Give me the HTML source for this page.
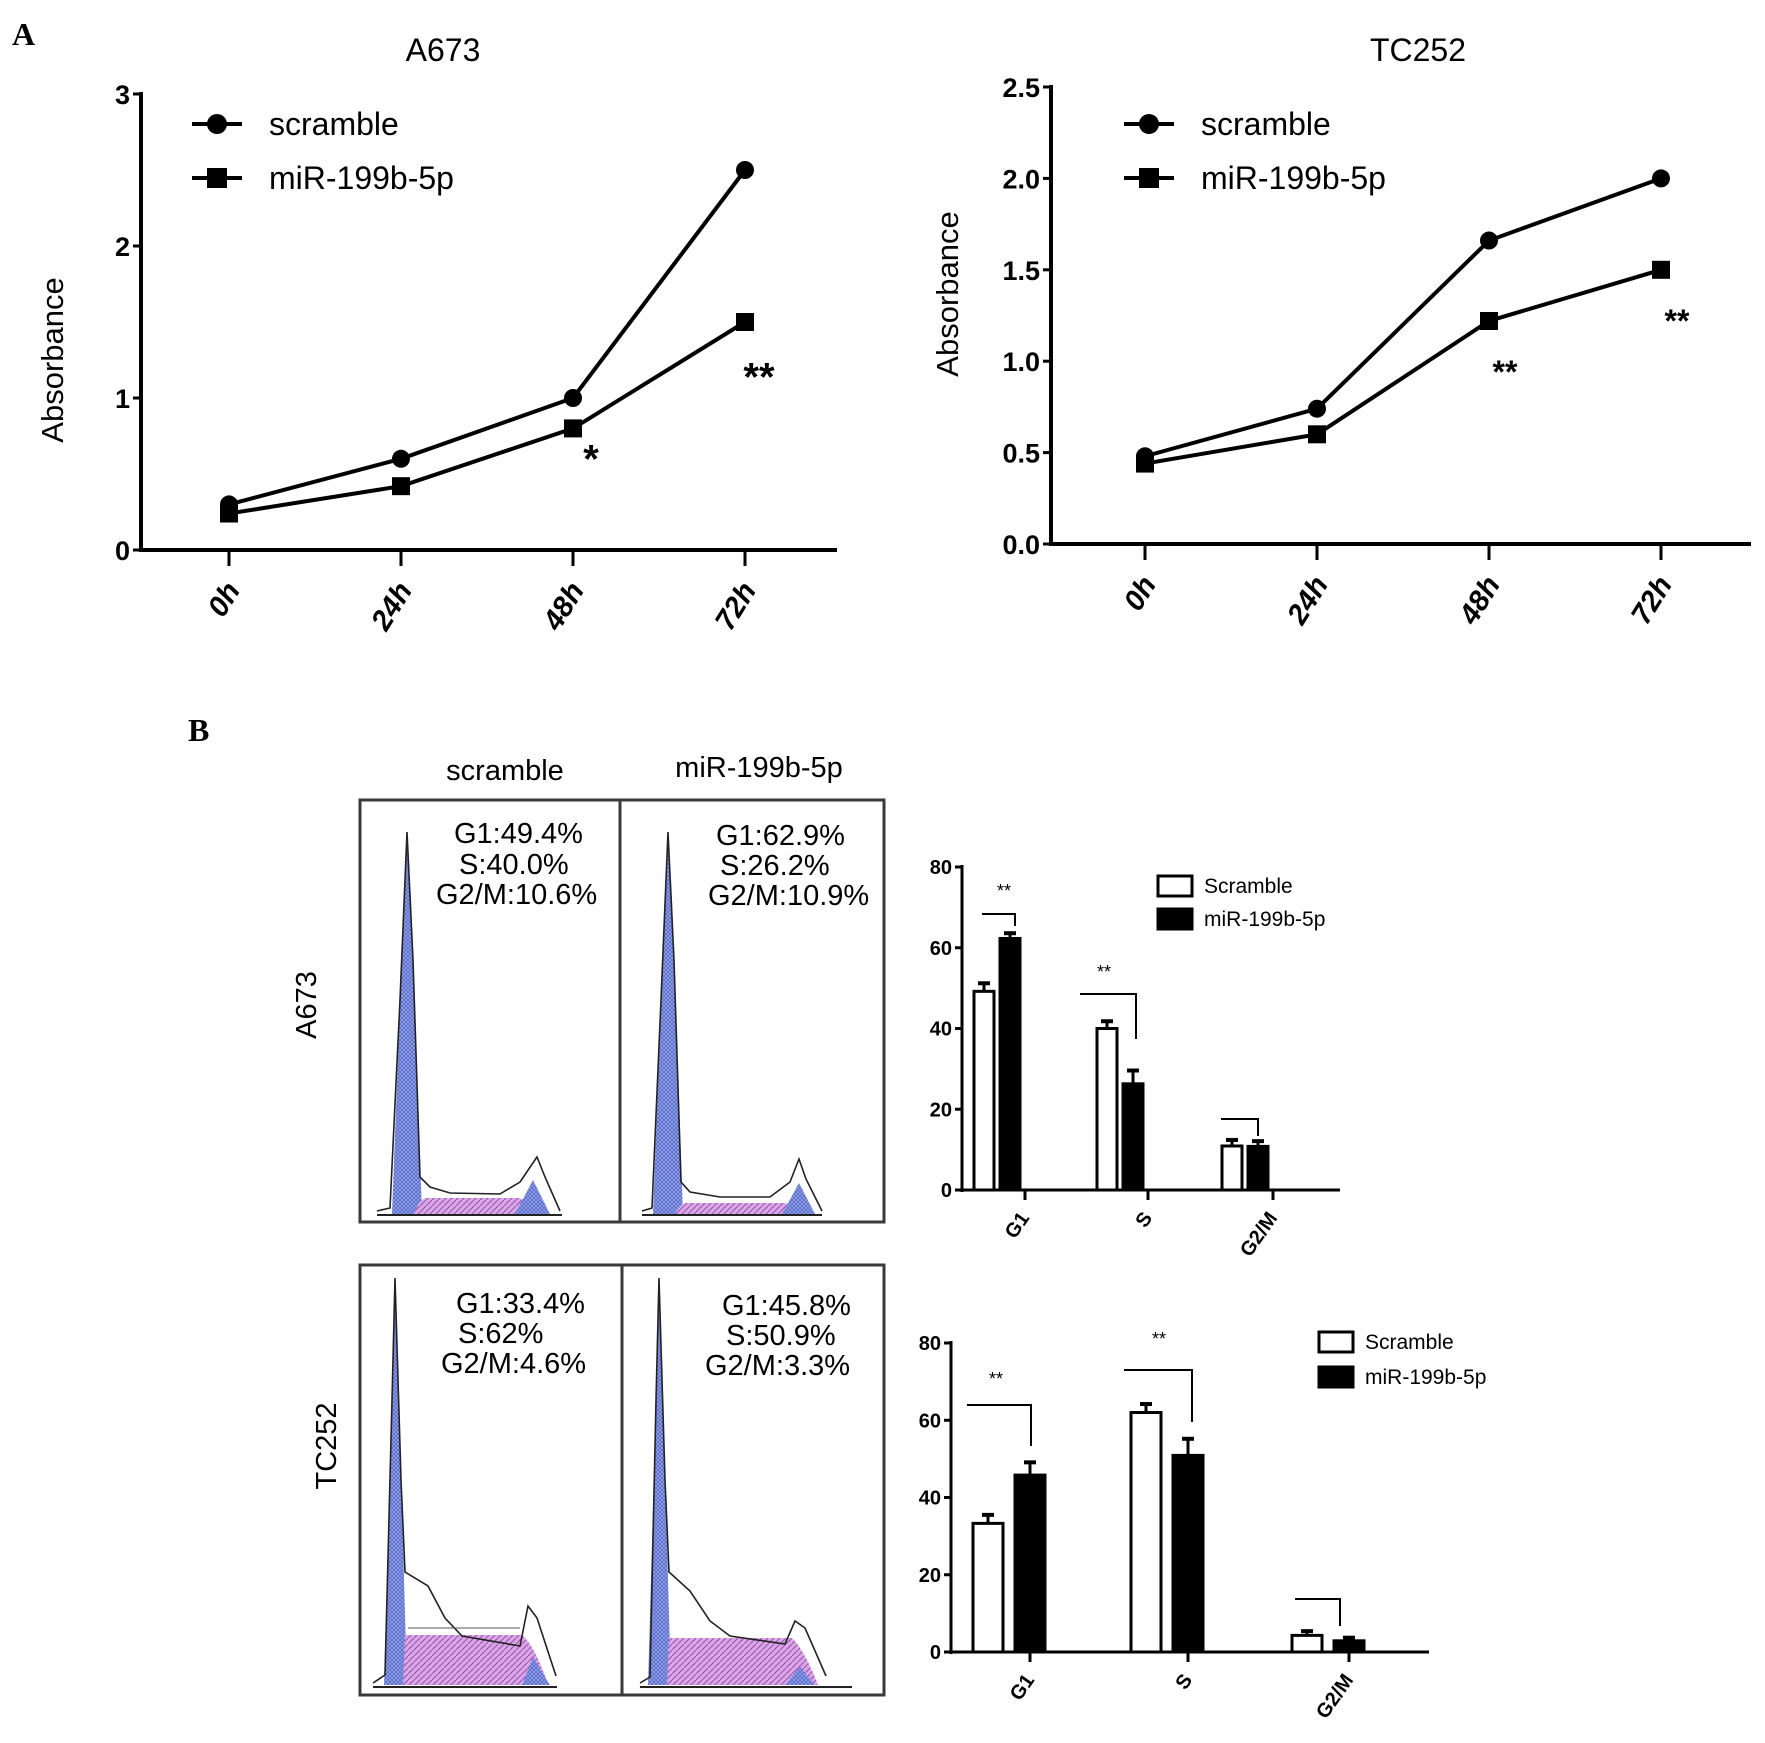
<!DOCTYPE html>
<html><head><meta charset="utf-8"><style>
html,body{margin:0;padding:0;background:#fff}
svg{display:block}
text{font-family:"Liberation Sans",sans-serif}
</style></head><body>
<svg id="fig" xmlns="http://www.w3.org/2000/svg" width="1765" height="1743" viewBox="0 0 1765 1743">
<defs>
<pattern id="hatchB" width="4" height="4" patternUnits="userSpaceOnUse"><rect width="4" height="4" fill="#8e9de6"/><path d="M0 0L4 4M4 0L0 4" stroke="#4a5cc0" stroke-width="0.6"/></pattern>
<pattern id="hatchP" width="6" height="6" patternUnits="userSpaceOnUse"><rect width="6" height="6" fill="#d9a6e6"/><path d="M0 6L6 0" stroke="#9a4fb0" stroke-width="1"/></pattern>
</defs>
<text x="12" y="45" font-weight="bold" font-size="32" style="font-family:'Liberation Serif',serif">A</text>
<text x="188" y="741" font-weight="bold" font-size="32" style="font-family:'Liberation Serif',serif">B</text>
<g id="lineA"></g><g id="lineB"></g>

<g>
<text x="505" y="780" font-size="29" text-anchor="middle">scramble</text>
<text x="759" y="777" font-size="29" text-anchor="middle">miR-199b-5p</text>
<text transform="translate(316,1005) rotate(-90)" font-size="29" text-anchor="middle">A673</text>
<text transform="translate(336,1446) rotate(-90)" font-size="29" text-anchor="middle">TC252</text>
<rect x="360" y="800" width="524" height="422" fill="none" stroke="#3a3a3a" stroke-width="3"/>
<line x1="620" y1="800" x2="620" y2="1222" stroke="#3a3a3a" stroke-width="3"/>
<rect x="360" y="1265" width="524" height="430" fill="none" stroke="#3a3a3a" stroke-width="3"/>
<line x1="622" y1="1265" x2="622" y2="1695" stroke="#3a3a3a" stroke-width="3"/>

<g id="histA1">
<path d="M392 1214 L404 900 L407 832 L411 900 L422 1214 Z" fill="url(#hatchB)"/>
<path d="M414 1214 Q420 1197 428 1198 L520 1198 Q530 1203 540 1214 Z" fill="url(#hatchP)"/>
<path d="M515 1214 L533 1180 L550 1214 Z" fill="url(#hatchB)"/>
<path d="M377 1211 L390 1208 L400 1000 L407 832 L413 960 L420 1177 L430 1187 L450 1193 L500 1194 L520 1182 L537 1157 L545 1177 L560 1211" fill="none" stroke="#222" stroke-width="1.6"/>
<line x1="377" y1="1215" x2="562" y2="1215" stroke="#222" stroke-width="2"/>
<text x="454" y="843" font-size="29">G1:49.4%</text>
<text x="459" y="874" font-size="29">S:40.0%</text>
<text x="436" y="904" font-size="29">G2/M:10.6%</text>
</g>
<g id="histA2">
<path d="M653 1214 L665 900 L668 832 L672 900 L683 1214 Z" fill="url(#hatchB)"/>
<path d="M675 1214 Q681 1202 689 1203 L785 1203 Q792 1207 800 1214 Z" fill="url(#hatchP)"/>
<path d="M782 1214 L799 1183 L815 1214 Z" fill="url(#hatchB)"/>
<path d="M642 1211 L652 1208 L661 1000 L668 832 L674 960 L681 1182 L690 1192 L720 1197 L770 1197 L790 1182 L799 1159 L806 1179 L822 1211" fill="none" stroke="#222" stroke-width="1.6"/>
<line x1="642" y1="1215" x2="822" y2="1215" stroke="#222" stroke-width="2"/>
<text x="716" y="845" font-size="29">G1:62.9%</text>
<text x="720" y="875" font-size="29">S:26.2%</text>
<text x="708" y="905" font-size="29">G2/M:10.9%</text>
</g>
<g id="histB1">
<path d="M384 1685 L392 1400 L395 1278 L399 1400 L407 1685 Z" fill="url(#hatchB)"/>
<path d="M403 1685 L405 1635 L522 1635 Q535 1646 548 1685 Z" fill="url(#hatchP)"/>
<path d="M522 1685 L533 1657 L550 1685 Z" fill="url(#hatchB)"/>
<path d="M373 1683 L385 1675 L392 1400 L395 1278 L401 1480 L405 1572 L428 1586 L445 1618 L462 1636 L520 1646 L528 1606 L537 1618 L556 1676" fill="none" stroke="#222" stroke-width="1.6"/>
<path d="M408 1628 L520 1628" fill="none" stroke="#555" stroke-width="1"/>
<line x1="373" y1="1687" x2="557" y2="1687" stroke="#222" stroke-width="2"/>
<text x="456" y="1313" font-size="29">G1:33.4%</text>
<text x="458" y="1343" font-size="29">S:62%</text>
<text x="441" y="1373" font-size="29">G2/M:4.6%</text>
</g>
<g id="histB2">
<path d="M648 1685 L656 1400 L659 1278 L663 1400 L671 1685 Z" fill="url(#hatchB)"/>
<path d="M667 1685 L669 1638 L792 1638 Q805 1651 818 1685 Z" fill="url(#hatchP)"/>
<path d="M785 1685 L800 1667 L815 1685 Z" fill="url(#hatchB)"/>
<path d="M640 1683 L650 1677 L656 1400 L659 1278 L665 1480 L669 1572 L690 1591 L710 1621 L730 1636 L785 1644 L795 1621 L805 1628 L826 1676" fill="none" stroke="#222" stroke-width="1.6"/>
<line x1="640" y1="1687" x2="852" y2="1687" stroke="#222" stroke-width="2"/>
<text x="722" y="1315" font-size="29">G1:45.8%</text>
<text x="726" y="1345" font-size="29">S:50.9%</text>
<text x="705" y="1375" font-size="29">G2/M:3.3%</text>
</g>
</g>
<g id="barA"></g><g id="barB"></g>
</svg>
<script>
// ---- Line chart data ----
const timeLabels = ["0h","24h","48h","72h"];
const a673Scramble = [0.3,0.6,1.0,2.5];
const a673Mir = [0.24,0.42,0.8,1.5];
const tc252Scramble = [0.48,0.74,1.66,2.0];
const tc252Mir = [0.44,0.6,1.22,1.5];
const a673Ticks = ["0","1","2","3"];
const tc252Ticks = ["0.0","0.5","1.0","1.5","2.0","2.5"];
// ---- Bar chart data ----
const phaseLabels = ["G1","S","G2/M"];
const barA673Scramble = [49.2,40.0,10.9];
const barA673ScrambleErr = [2.0,1.8,1.5];
const barA673Mir = [62.3,26.3,10.8];
const barA673MirErr = [1.3,3.3,1.3];
const barTc252Scramble = [33.3,62.0,4.3];
const barTc252ScrambleErr = [2.2,2.2,1.1];
const barTc252Mir = [45.8,50.9,2.9];
const barTc252MirErr = [3.3,4.3,0.8];
const barTicks = ["0","20","40","60","80"];

const NS="http://www.w3.org/2000/svg";
function mk(parent,tag,attrs,txt){const e=document.createElementNS(NS,tag);for(const k in attrs)e.setAttribute(k,attrs[k]);if(txt!==undefined)e.textContent=txt;parent.appendChild(e);return e;}

function lineChart(g,cfg){
  const ys=v=>cfg.y0+(cfg.yTop-cfg.y0)*(v/cfg.yMax);
  const xs=i=>cfg.xTicks[0]+i*(cfg.xTicks[1]-cfg.xTicks[0]);
  let e;
  e=mk(g,"text",{x:cfg.titleX,y:61,"font-size":32,"text-anchor":"middle"},cfg.title);
  
  
  e=mk(g,"line",{x1:cfg.ax,y1:cfg.yTop-2,x2:cfg.ax,y2:cfg.y0+2,stroke:"#000","stroke-width":4});
  
  
  e=mk(g,"line",{x1:cfg.ax-2,y1:cfg.y0,x2:cfg.xEnd,y2:cfg.y0,stroke:"#000","stroke-width":4});
  
  
  cfg.ticks.forEach((t,i)=>{
    const v=i*cfg.yMax/(cfg.ticks.length-1);const y=ys(v);
    mk(g,"line",{x1:cfg.ax-8,y1:y,x2:cfg.ax,y2:y,stroke:"#000","stroke-width":3});
    e=mk(g,"text",{x:cfg.ax-11,y:y+10,"font-size":27,"font-weight":"bold","text-anchor":"end"},t);
    
    
  });
  timeLabels.forEach((t,i)=>{
    const x=xs(i);
    mk(g,"line",{x1:x,y1:cfg.y0,x2:x,y2:cfg.y0+16,stroke:"#000","stroke-width":3});
    e=mk(g,"text",{transform:`translate(${x+12},${cfg.y0+40}) rotate(-58)`,"font-size":29,"font-weight":"bold","font-style":"italic","text-anchor":"end"},t);
    
    
  });
  e=mk(g,"text",{transform:`translate(${cfg.ylabX},${cfg.ylabY}) rotate(-90)`,"font-size":31,"text-anchor":"middle"},"Absorbance");
  
  
  [[cfg.s1,"circle"],[cfg.s2,"square"]].forEach(([arr,m],si)=>{
    const pts=arr.map((v,i)=>xs(i)+","+ys(v)).join(" ");
    e=mk(g,"polyline",{points:pts,fill:"none",stroke:"#000","stroke-width":4});
    
    
    arr.forEach((v,i)=>{
      if(m==="circle"){e=mk(g,"circle",{cx:xs(i),cy:ys(v),r:9,fill:"#000"});}
      else{e=mk(g,"rect",{x:xs(i)-9,y:ys(v)-9,width:18,height:18,fill:"#000"});}
      
      
    });
  });
  [["scramble","circle",cfg.legY[0]],["miR-199b-5p","square",cfg.legY[1]]].forEach(([lab,m,y])=>{
    mk(g,"line",{x1:cfg.legX-25,y1:y,x2:cfg.legX+25,y2:y,stroke:"#000","stroke-width":4});
    if(m==="circle")mk(g,"circle",{cx:cfg.legX,cy:y,r:10,fill:"#000"});else mk(g,"rect",{x:cfg.legX-10,y:y-10,width:20,height:20,fill:"#000"});
    e=mk(g,"text",{x:cfg.legText,y:y+11,"font-size":32},lab);
    
    
  });
  cfg.stars.forEach(s=>{
    e=mk(g,"text",{x:xs(s[0])+s[1],y:ys(s[2]),"font-size":s[4],"font-weight":"bold","text-anchor":"middle"},s[3]);
    
    
  });
}
const gA=document.getElementById("lineA");


lineChart(gA,{title:"A673",titleX:443,ax:141,y0:550,yTop:94,yMax:3,xTicks:[229,401],xEnd:837,ticks:a673Ticks,
  ylabX:63,ylabY:360,s1:a673Scramble,s2:a673Mir,legX:217,legText:269,legY:[124,178],
  stars:[[2,18,0.51,"*",40],[3,14,1.05,"**",40]]});
const gB=document.getElementById("lineB");


lineChart(gB,{title:"TC252",titleX:1418,ax:1051,y0:544,yTop:87,yMax:2.5,xTicks:[1145,1317],xEnd:1751,ticks:tc252Ticks,
  ylabX:958,ylabY:294,s1:tc252Scramble,s2:tc252Mir,legX:1149,legText:1201,legY:[124,178],
  stars:[[2,16,0.88,"**",32],[3,16,1.16,"**",32]]});

function barChart(g,cfg){
  const ys=v=>cfg.y0+(cfg.y80-cfg.y0)*(v/80);
  let e;
  e=mk(g,"line",{x1:cfg.ax,y1:cfg.y80-2,x2:cfg.ax,y2:cfg.y0+2,stroke:"#000","stroke-width":3});
  
  
  e=mk(g,"line",{x1:cfg.ax,y1:cfg.y0,x2:cfg.xEnd,y2:cfg.y0,stroke:"#000","stroke-width":3});
  
  
  barTicks.forEach((t,i)=>{
    const y=ys(+t);
    mk(g,"line",{x1:cfg.ax-7,y1:y,x2:cfg.ax,y2:y,stroke:"#000","stroke-width":3});
    e=mk(g,"text",{x:cfg.ax-10,y:y+7,"font-size":20,"font-weight":"bold","text-anchor":"end"},t);
    
    
  });
  phaseLabels.forEach((p,i)=>{
    const x=cfg.ticks[i];
    mk(g,"line",{x1:x,y1:cfg.y0,x2:x,y2:cfg.y0+10,stroke:"#000","stroke-width":3});
    e=mk(g,"text",{transform:`translate(${x+5},${cfg.y0+28}) rotate(-55)`,"font-size":20,"font-weight":"bold","text-anchor":"end"},p);
    
    
    [[cfg.s1,cfg.e1,cfg.off1,"#fff"],[cfg.s2,cfg.e2,cfg.off2,"#000"]].forEach(([vals,errs,off,fill],si)=>{
      const bx=x+off, top=ys(vals[i]), et=ys(vals[i]+errs[i]), cx=bx+cfg.bw/2;
      mk(g,"line",{x1:cx,y1:top,x2:cx,y2:et,stroke:"#000","stroke-width":3});
      mk(g,"line",{x1:cx-6,y1:et,x2:cx+6,y2:et,stroke:"#000","stroke-width":4});
      e=mk(g,"rect",{x:bx,y:top,width:cfg.bw,height:cfg.y0-top,fill:fill,stroke:"#000","stroke-width":3});
      
      
    });
  });
  cfg.brackets.forEach(b=>{
    mk(g,"polyline",{points:`${b[0]},${b[2]} ${b[1]},${b[2]} ${b[1]},${b[3]}`,fill:"none",stroke:"#000","stroke-width":2});
    if(b[4]){e=mk(g,"text",{x:b[4],y:b[5],"font-size":18,"text-anchor":"middle"},"**");
      
      }
  });
  [["Scramble","#fff",cfg.legY[0]],["miR-199b-5p","#000",cfg.legY[1]]].forEach(([lab,fill,y])=>{
    mk(g,"rect",{x:cfg.legX,y:y-10,width:34,height:20,fill:fill,stroke:"#000","stroke-width":3});
    e=mk(g,"text",{x:cfg.legX+46,y:y+7,"font-size":21},lab);
    
    
  });
}
const bA=document.getElementById("barA");


barChart(bA,{ax:962,y0:1190,y80:867,xEnd:1340,ticks:[1025,1148,1273],bw:20,off1:-51,off2:-25,
  s1:barA673Scramble,e1:barA673ScrambleErr,s2:barA673Mir,e2:barA673MirErr,
  brackets:[[982,1015,914,926,1004,897],[1080,1136,994,1039,1104,978],[1221,1258,1119,1136]],
  legX:1158,legY:[886,919]});
const bB=document.getElementById("barB");


barChart(bB,{ax:951,y0:1652,y80:1343,xEnd:1429,ticks:[1030,1188,1349],bw:30,off1:-57,off2:-15,
  s1:barTc252Scramble,e1:barTc252ScrambleErr,s2:barTc252Mir,e2:barTc252MirErr,
  brackets:[[967,1031,1405,1446,996,1385],[1124,1192,1370,1422,1159,1345],[1295,1340,1599,1626]],
  legX:1319,legY:[1342,1377]});
</script>
</body></html>
